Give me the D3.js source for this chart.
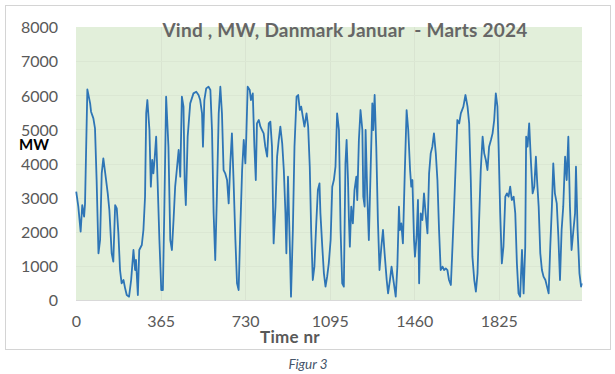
<!DOCTYPE html>
<html>
<head>
<meta charset="utf-8">
<script src="https://cdn.jsdelivr.net/npm/d3@7"></script>
<style>
  html, body { margin: 0; padding: 0; background: #ffffff; }
  #chart { width: 615px; height: 374px; }
</style>
</head>
<body>
<div id="chart"></div>
<script>
// Hour number (x) and wind power in MW (y)
const hours = [
  1, 10, 20, 27, 35, 39, 49, 61, 65, 75, 82, 89, 97, 104, 111, 118, 128, 137, 144, 154,
  161, 169, 176, 183, 190, 197, 205, 212, 219, 229, 238, 248, 255, 259, 267, 273, 284, 291, 298, 303,
  308, 317, 323, 329, 334, 339, 346, 352, 360, 368, 375,
  381, 389, 399, 407, 414, 421, 428, 435, 443, 450, 457, 464, 469, 474, 482, 493, 500, 507, 519, 529,
  536, 544, 548, 554, 562, 572, 580, 587, 594, 601, 608, 616, 623, 630, 637, 644, 652, 659, 666, 673,
  680, 688, 695, 702, 709, 717, 724, 731, 735, 741, 750, 755, 763, 770, 776, 781, 789, 796,
  803, 810, 817, 825, 832, 839, 846, 853, 861, 868, 875, 882, 890, 897, 904, 908, 915, 923, 928, 936,
  943, 952, 959, 966, 972, 979, 986, 995, 1002, 1009, 1015, 1022, 1029, 1037, 1044, 1051, 1055, 1063, 1070, 1077,
  1084, 1091, 1099, 1106, 1113, 1120, 1127, 1135, 1142, 1149, 1156, 1163, 1168, 1174, 1178, 1182, 1188, 1195, 1202, 1210,
  1214, 1221, 1228,
  1236, 1240, 1246, 1250, 1257, 1264, 1272, 1279, 1283, 1289, 1296, 1303, 1310, 1318, 1325, 1332, 1341, 1347, 1355, 1362,
  1370, 1380, 1387, 1394, 1398, 1404, 1411, 1419, 1427, 1434, 1442, 1447, 1452, 1459, 1463, 1470, 1476, 1481, 1488, 1495,
  1502, 1509, 1517, 1524, 1531, 1538, 1545, 1553, 1560, 1567, 1574, 1582, 1589, 1596, 1603, 1610, 1618, 1625, 1632, 1639,
  1646, 1654, 1661,
  1672, 1681, 1690, 1697, 1704, 1711, 1719, 1726, 1733, 1740, 1747, 1755, 1762, 1769, 1776, 1783, 1791, 1798, 1805, 1812,
  1819, 1824, 1831, 1838, 1845, 1853, 1860, 1867, 1874, 1881, 1889, 1896, 1903, 1910, 1917, 1925, 1932, 1939, 1943, 1949,
  1956, 1964, 1971, 1978, 1985, 1990, 1997, 2004, 2011, 2018, 2026, 2033, 2040, 2047, 2054, 2060, 2067, 2075, 2082, 2089,
  2096, 2103, 2111, 2118, 2125, 2132, 2139, 2147, 2154, 2158, 2165, 2173, 2180, 2183
];

const windMW = [
  3174, 2735, 2002, 2783, 2442, 2832, 6173, 5762, 5518, 5323, 5030, 3516, 1367, 1758, 3711, 4151, 3614, 3125, 2637, 1367,
  1123, 2783, 2686, 1953, 879, 488, 586, 342, 146, 98, 586, 1465, 879, 1172, 146, 1465, 1611, 2051, 3028, 5469,
  5860, 4981, 3320, 4102, 3711, 4102, 4786, 3516, 1758, 293, 293,
  2539, 5958, 4493, 1758, 1465, 2344, 3320, 3809, 4395, 3614, 5958, 5665, 3516, 2783, 4786, 5762, 5909, 6055, 6104, 6007,
  5860, 5469, 4493, 5860, 6202, 6251, 6153, 4981, 2539, 1172, 3028, 5469, 6251, 5469, 3809, 3711, 3516, 2832, 4004, 4883,
  3516, 1758, 488, 293, 2051, 3809, 4688, 4004, 4786, 6251, 6153, 5860, 6055, 4493, 3516, 5176, 5274, 5079,
  4981, 4883, 4493, 4200, 5176, 5225, 4493, 1660, 2735, 4200, 4688, 5079, 4590, 3809, 2539, 1367, 3614, 1563, 98, 2051,
  4493, 5958, 6007, 5567, 5665, 5372, 5079, 5469, 5079, 3907, 2051, 586, 977, 2246, 3223, 3418, 2539, 1563, 781, 391,
  684, 1074, 1758, 3320, 3516, 3907, 5469, 4981, 2051, 488, 391, 4004, 4688, 3516, 2344, 1563, 2735, 2246, 3223, 3614,
  2930, 4688, 5567,
  4981, 3028, 2735, 4981, 3125, 1758, 3907, 5762, 4981, 6007, 4493, 2344, 879, 1563, 2051, 1367, 586, 195, 586, 977,
  586, 98, 977, 2735, 2051, 2246, 1660, 3711, 5567, 4981, 3809, 3320, 3516, 1758, 1270, 1856, 2930, 488, 2539, 2344,
  3125, 2539, 1953, 3711, 4297, 4493, 4883, 4297, 3516, 2051, 879, 977, 879, 928, 879, 586, 439, 1563, 2735, 4004,
  5274, 5176, 5469,
  5665, 6007, 5665, 5176, 3516, 1270, 586, 244, 781, 2344, 3809, 4786, 4297, 4102, 3809, 4493, 4688, 4883, 5274, 6055,
  5665, 4493, 2539, 1074, 1563, 3028, 3125, 3028, 3320, 2930, 3028, 2539, 1074, 195, 98, 1465, 195, 1563, 4786, 4493,
  5176, 4004, 3125, 3320, 4200, 3516, 2735, 1367, 879, 684, 586, 391, 195, 1563, 2735, 4004, 3125, 2832, 1856, 586,
  2051, 2735, 4200, 3516, 4786, 2735, 1465, 2051, 2539, 3907, 2051, 781, 391, 488
];

const xTicks = [0, 365, 730, 1095, 1460, 1825];
const yTicks = [0, 1000, 2000, 3000, 4000, 5000, 6000, 7000, 8000];
const hourMax = 2184;

const titleText = 'Vind , MW, Danmark Januar\u00a0\u00a0- Marts 2024';
const yLabelText = 'MW';
const xLabelText = 'Time nr';
const captionText = 'Figur 3';

// Layout (pixel box of the plot area inside the 615x374 picture)
const W = 615, H = 374;
const plot = { left: 76, right: 582, top: 27, bottom: 300 };
const FONT = 'Lato, "Open Sans", sans-serif';

const svg = d3.select('#chart')
  .append('svg')
  .attr('width', W)
  .attr('height', H)
  .style('display', 'block');

svg.append('rect')
  .attr('width', W).attr('height', H)
  .attr('fill', '#ffffff');

// chart frame
svg.append('rect')
  .attr('x', 5.5).attr('y', 5.5)
  .attr('width', 605).attr('height', 344)
  .attr('fill', 'none')
  .attr('stroke', '#d4d4d4')
  .attr('stroke-width', 1);

// Scales
const x = d3.scaleLinear()
  .domain([0, hourMax])
  .range([plot.left, plot.right]);

const y = d3.scaleLinear()
  .domain([0, 8000])
  .range([plot.bottom, plot.top]);

// plot background
svg.append('rect')
  .attr('x', plot.left).attr('y', plot.top)
  .attr('width', plot.right - plot.left)
  .attr('height', plot.bottom - plot.top)
  .attr('fill', '#e2efda');

// faint grid lines
const grid = svg.append('g').attr('class', 'grid');
grid.selectAll('.gx')
  .data(xTicks.slice(1))
  .enter().append('line')
  .attr('x1', d => Math.round(x(d)) + 0.5)
  .attr('x2', d => Math.round(x(d)) + 0.5)
  .attr('y1', plot.top).attr('y2', plot.bottom)
  .attr('stroke', '#d9e4d1').attr('stroke-width', 1);
grid.selectAll('.gy')
  .data(yTicks.slice(1, -1))
  .enter().append('line')
  .attr('x1', plot.left).attr('x2', plot.right)
  .attr('y1', d => Math.round(y(d)) + 0.5)
  .attr('y2', d => Math.round(y(d)) + 0.5)
  .attr('stroke', '#dbe7d3').attr('stroke-width', 1);

// bottom axis line
svg.append('line')
  .attr('x1', plot.left).attr('x2', plot.right)
  .attr('y1', plot.bottom + 0.5).attr('y2', plot.bottom + 0.5)
  .attr('stroke', '#d9d9d9');

// Axes (tick labels only, no domain lines)
const yAxis = d3.axisLeft(y)
  .tickValues(yTicks)
  .tickFormat(d3.format('d'))
  .tickSize(0)
  .tickPadding(0);

const yAxisG = svg.append('g')
  .attr('transform', 'translate(58,0)')
  .call(yAxis);

const xAxis = d3.axisBottom(x)
  .tickValues(xTicks)
  .tickFormat(d3.format('d'))
  .tickSize(0)
  .tickPadding(0);

const xAxisG = svg.append('g')
  .attr('transform', 'translate(0,316)')
  .call(xAxis);

[yAxisG, xAxisG].forEach(g => {
  g.select('.domain').remove();
  g.selectAll('text')
    .style('font-family', FONT)
    .style('font-size', '16px')
    .attr('fill', '#595959');
});
yAxisG.selectAll('text').attr('dy', '0.36em');

// the series
const line = d3.line()
  .x((d, i) => x(hours[i]))
  .y(d => y(d));

svg.append('path')
  .datum(windMW)
  .attr('fill', 'none')
  .attr('stroke', '#2e75b6')
  .attr('stroke-width', 1.8)
  .attr('stroke-linejoin', 'round')
  .attr('d', line);

// Texts
svg.append('text')
  .attr('x', 345).attr('y', 37)
  .attr('text-anchor', 'middle')
  .style('font-family', FONT)
  .style('font-size', '19px')
  .style('font-weight', 'bold')
  .style('letter-spacing', '0.25px')
  .attr('fill', '#666666')
  .text(titleText);

svg.append('text')
  .attr('x', 34).attr('y', 150)
  .attr('text-anchor', 'middle')
  .style('font-family', FONT)
  .style('font-size', '15px')
  .style('font-weight', 'bold')
  .attr('fill', '#000000')
  .text(yLabelText);

svg.append('text')
  .attr('x', 290).attr('y', 343)
  .attr('text-anchor', 'middle')
  .style('font-family', FONT)
  .style('font-size', '17px')
  .style('font-weight', 'bold')
  .style('letter-spacing', '0.3px')
  .attr('fill', '#595959')
  .text(xLabelText);

svg.append('text')
  .attr('x', 308).attr('y', 369)
  .attr('text-anchor', 'middle')
  .style('font-family', FONT)
  .style('font-size', '13.5px')
  .style('font-style', 'italic')
  .attr('fill', '#44546a')
  .text(captionText);
</script>
</body>
</html>
